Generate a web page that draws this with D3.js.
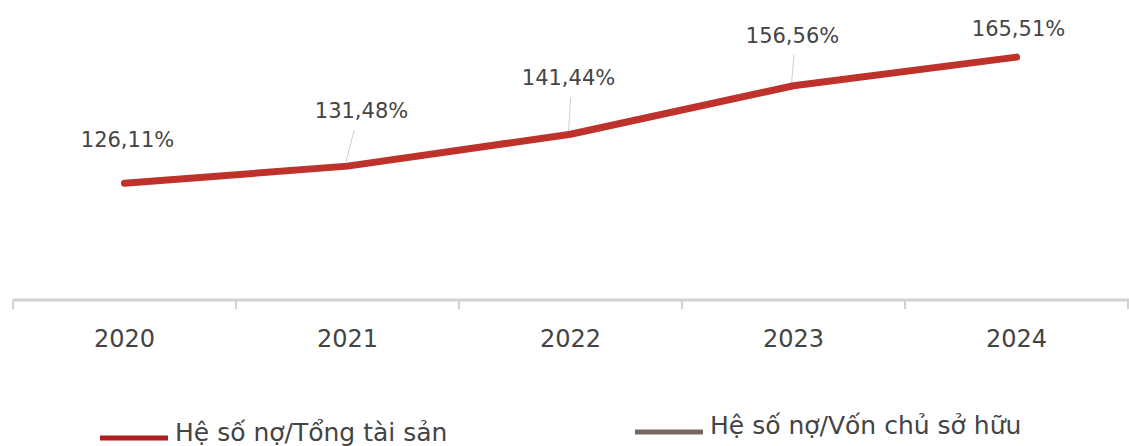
<!DOCTYPE html>
<html><head><meta charset="utf-8">
<script src="https://cdn.jsdelivr.net/npm/d3@7"></script>
<style>
html,body{margin:0;padding:0;background:#fff;}
svg{display:block;}
text{font-family:"DejaVu Sans",sans-serif;fill:#444444;}
</style></head>
<body>
<svg id="c" width="1129" height="446"></svg>
<script>
const years = ["2020","2021","2022","2023","2024"];
const debtToAssets = [126.11, 131.48, 141.44, 156.56, 165.51];
const seriesNames = ["Hệ số nợ/Tổng tài sản", "Hệ số nợ/Vốn chủ sở hữu"];
const seriesColors = ["#b01f1f", "#76685f"];

const svg = d3.select("#c");
const x = d3.scaleBand().domain(years).range([13, 1128]);
const y = d3.scaleLinear().domain([90, 180]).range([299, 10.7]);
const fmt = v => d3.format(".2f")(v).replace(".", ",") + "%";

// axis
const ax = svg.append("g").attr("transform", "translate(0,300)")
  .call(d3.axisBottom(x).tickSize(0).tickPadding(0));
ax.select(".domain").remove();
ax.selectAll("text").remove();
svg.append("line").attr("x1", 13).attr("x2", 1129).attr("y1", 300).attr("y2", 300)
  .attr("stroke", "#d2d2d2").attr("stroke-width", 3);
const tickXs = years.map(d => x(d)).concat([x.range()[1]]);
svg.selectAll(".tk").data(tickXs).enter().append("line")
  .attr("x1", d => d).attr("x2", d => d).attr("y1", 300).attr("y2", 309)
  .attr("stroke", "#d2d2d2").attr("stroke-width", 2);
svg.selectAll(".yl").data(years).enter().append("text")
  .attr("x", d => x(d) + x.bandwidth() / 2).attr("y", 347)
  .attr("text-anchor", "middle").style("font-size", "24px").text(d => d);

const cx = d => x(d) + x.bandwidth() / 2;

// leader lines + labels (offsets relative to point)
const labelDx = [3, 14, -2, -1, 2];
const labelDy = [-36, -48, -49, -43, -21];
const leader = [false, true, true, true, false];
years.forEach((yr, i) => {
  const px = cx(yr), py = y(debtToAssets[i]);
  if (leader[i]) {
    svg.append("line")
      .attr("x1", px - 2).attr("y1", py - 2)
      .attr("x2", px + labelDx[i] * 0.4 + 1).attr("y2", py + labelDy[i] + 12)
      .attr("stroke", "#cfcfcf").attr("stroke-width", 1);
  }
  svg.append("text").attr("x", px + labelDx[i]).attr("y", py + labelDy[i])
    .attr("text-anchor", "middle").style("font-size", "21px").text(fmt(debtToAssets[i]));
});

// line
const line = d3.line().x((d, i) => cx(years[i])).y(d => y(d));
svg.append("path").datum(debtToAssets).attr("d", line)
  .attr("fill", "none").attr("stroke", "#be322b").attr("stroke-width", 7)
  .attr("stroke-linecap", "round").attr("stroke-linejoin", "round");

// legend
const legend = [
  {x1: 100, y: 438, ty: 441},
  {x1: 635, y: 432, ty: 434}
];
legend.forEach((l, i) => {
  svg.append("line").attr("x1", l.x1).attr("x2", l.x1 + 68).attr("y1", l.y).attr("y2", l.y)
    .attr("stroke", seriesColors[i]).attr("stroke-width", 5);
  svg.append("text").attr("x", l.x1 + 75).attr("y", l.ty)
    .style("font-size", "25px").text(seriesNames[i]);
});
</script>
</body></html>
